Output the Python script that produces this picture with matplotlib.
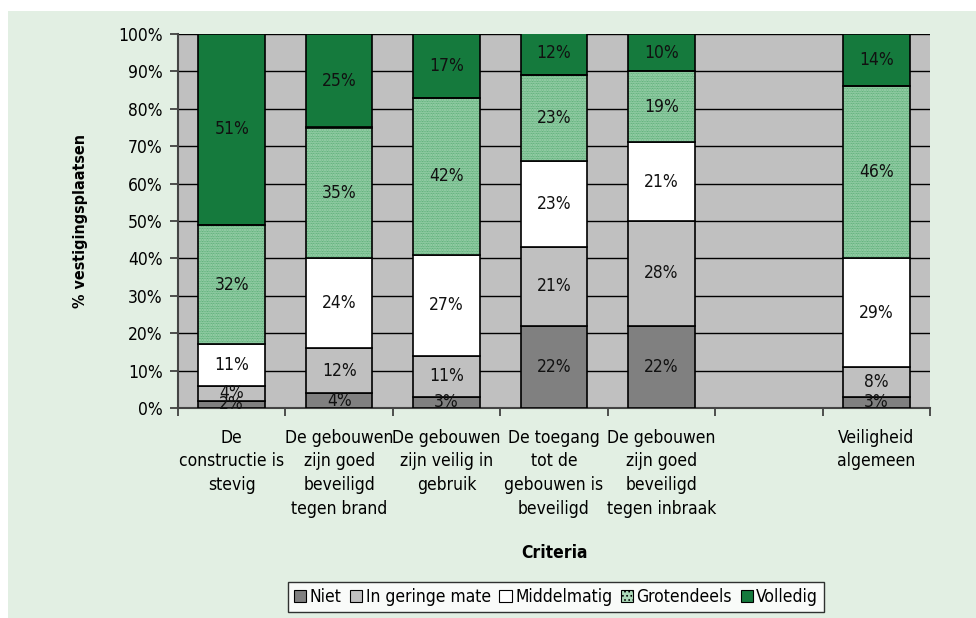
import numpy as np
import matplotlib
matplotlib.use("Agg")
import matplotlib.pyplot as plt
from matplotlib.patches import Rectangle

plt.rcParams['font.family'] = ['DejaVu Sans']
plt.rcParams['font.stretch'] = 'condensed'
plt.rcParams['hatch.linewidth'] = 0.7

# ---------------- DATA ----------------
categories = [
    "De\nconstructie is\nstevig",
    "De gebouwen\nzijn goed\nbeveiligd\ntegen brand",
    "De gebouwen\nzijn veilig in\ngebruik",
    "De toegang\ntot de\ngebouwen is\nbeveiligd",
    "De gebouwen\nzijn goed\nbeveiligd\ntegen inbraak",
    "",
    "Veiligheid\nalgemeen",
]
series_names = ["Niet", "In geringe mate", "Middelmatig", "Grotendeels", "Volledig"]
niet        = [2, 4, 3, 22, 22, 0, 3]
gering      = [4, 12, 11, 21, 28, 0, 8]
middelmatig = [11, 24, 27, 23, 21, 0, 29]
grotendeels = [32, 35, 42, 23, 19, 0, 46]
volledig    = [51, 25, 17, 12, 10, 0, 14]
yticks = [0, 10, 20, 30, 40, 50, 60, 70, 80, 90, 100]

series = [niet, gering, middelmatig, grotendeels, volledig]
colors = ['#808080', '#c0c0c0', '#ffffff', '#acdab9', '#157a3d']
FS = 12.5

# ---------------- FIGURE ----------------
fig = plt.figure(figsize=(9.76, 6.18), dpi=100)
fig.patch.set_facecolor('white')
fig.patches.append(Rectangle((8 / 976, 0), 1, (618 - 11) / 618, transform=fig.transFigure,
                             facecolor='#e2efe3', edgecolor='none', zorder=-10))

ax = fig.add_axes([178 / 976, 1 - 408 / 618, 752 / 976, 374 / 618])
ax.set_facecolor('#c0c0c0')

x = np.arange(len(categories))
width = 0.62
bottom = np.zeros(len(categories))
for name, vals, col in zip(series_names, series, colors):
    vals = np.array(vals, dtype=float)
    mask = vals > 0
    if name == "Grotendeels":
        # dotted fill drawn first, outline on top
        ax.bar(x[mask], vals[mask], width, bottom=bottom[mask], color=col,
               edgecolor='#42a063', hatch='..........', linewidth=0, zorder=3)
        ax.bar(x[mask], vals[mask], width, bottom=bottom[mask], fill=False,
               edgecolor='black', linewidth=1.2, zorder=4)
    else:
        ax.bar(x[mask], vals[mask], width, bottom=bottom[mask], color=col,
               edgecolor='black', linewidth=1.2, zorder=3)
    for xi, v, b in zip(x[mask], vals[mask], bottom[mask]):
        ax.text(xi, b + v / 2, f"{v:.0f}%", ha='center', va='center',
                fontsize=FS, color='#111111', zorder=5)
    bottom += vals

# legend proxies
handles = []
for name, col in zip(series_names, colors):
    if name == "Grotendeels":
        h = Rectangle((0, 0), 1, 1, facecolor=col, edgecolor='black', hatch='....', linewidth=0.8)
    else:
        h = Rectangle((0, 0), 1, 1, facecolor=col, edgecolor='black', linewidth=0.8)
    handles.append(h)

ax.set_xlim(-0.5, len(categories) - 0.5)
ax.set_ylim(0, 100)
ax.set_yticks(yticks)
ax.set_yticklabels([f"{t}%" for t in yticks], fontsize=FS)
ax.yaxis.grid(True, color='black', linewidth=1.0, zorder=1)
ax.set_axisbelow(True)

ax.set_xticks(np.arange(len(categories) + 1) - 0.5)
ax.set_xticklabels([])
ax.set_xticks(x, minor=True)
ax.set_xticklabels(categories, minor=True, fontsize=FS, linespacing=1.4, va='top')
ax.tick_params(axis='x', which='minor', length=0, pad=15)
ax.tick_params(axis='x', which='major', length=6, width=1.2, color='#333333', direction='out')
ax.tick_params(axis='y', length=6, width=1.2, color='#333333', pad=5)

for s in ['top', 'right']:
    ax.spines[s].set_visible(False)
for s in ['left', 'bottom']:
    ax.spines[s].set_color('#444444')
    ax.spines[s].set_linewidth(1.5)

ax.set_ylabel("% vestigingsplaatsen", fontsize=11.5, fontweight='bold')
ax.yaxis.set_label_coords(-(178 - 88) / 752, 0.5)
ax.set_xlabel("Criteria", fontsize=FS, fontweight='bold')
ax.xaxis.set_label_coords(0.5, -(544 - 408) / 374)

leg = fig.legend(handles, series_names, loc='center', bbox_to_anchor=(556 / 976, 21 / 618),
                 ncol=5, fontsize=FS, frameon=True, fancybox=False, edgecolor='black',
                 handlelength=0.7, handleheight=0.7, handletextpad=0.2,
                 columnspacing=0.5, borderpad=0.35, borderaxespad=0)
leg.get_frame().set_linewidth(1.0)
leg.get_frame().set_facecolor('white')

fig.savefig("out.png", dpi=100, facecolor=fig.get_facecolor())
